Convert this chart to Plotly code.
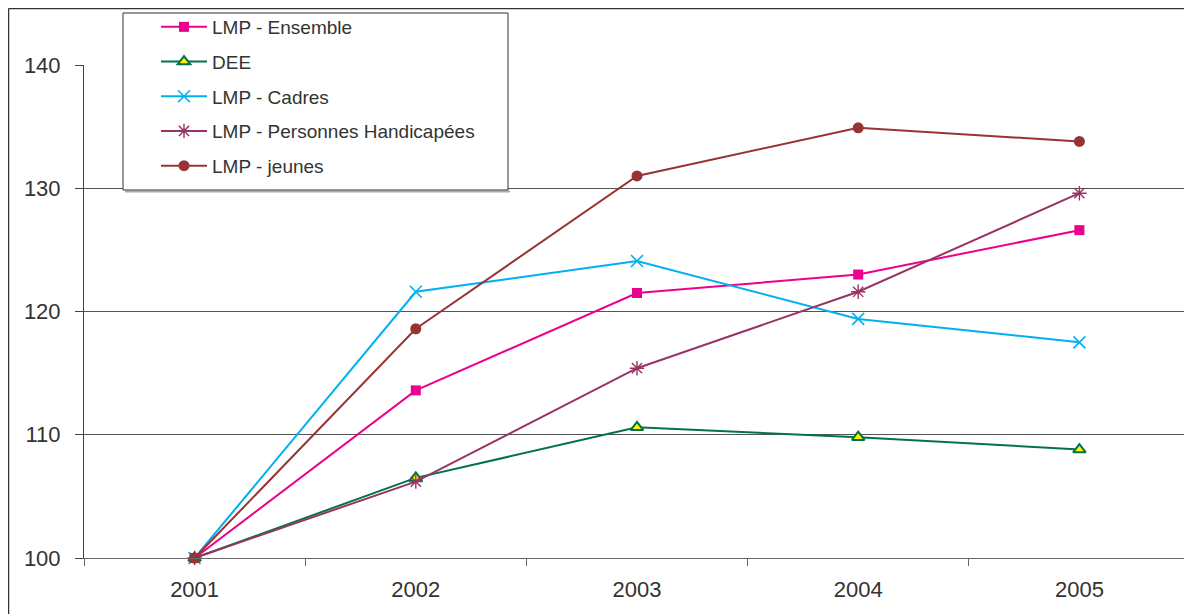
import plotly.graph_objects as go

years = ["2001", "2002", "2003", "2004", "2005"]

lmp_ensemble = [100, 113.6, 121.5, 123.0, 126.6]
dee = [100, 106.5, 110.6, 109.8, 108.8]
lmp_cadres = [100, 121.6, 124.1, 119.4, 117.5]
lmp_handicapees = [100, 106.2, 115.4, 121.6, 129.6]
lmp_jeunes = [100, 118.6, 131.0, 134.9, 133.8]

y_ticks = [100, 110, 120, 130, 140]

# page has an 8px body margin, so figure coords = screen coords - 8
OFF = 8
W, H = 1192, 614
L, R, T, B = 76, 10, 57, 64
pw, ph = W - L - R, H - T - B


def px_x(sx):
    return (sx - OFF - L) / pw


def px_y(sy):
    return (H - B - (sy - OFF)) / ph


series = [
    dict(name="LMP - Ensemble", y=lmp_ensemble, color="#EC008C",
         marker=dict(symbol="square", size=10, color="#EC008C")),
    dict(name="DEE", y=dee, color="#00734A",
         marker=dict(symbol="triangle-up", size=11, color="#FFF200",
                     line=dict(color="#00734A", width=2))),
    dict(name="LMP - Cadres", y=lmp_cadres, color="#00B0F0",
         marker=dict(symbol="x-thin-open", size=12, color="#00B0F0",
                     line=dict(color="#00B0F0", width=1.6))),
    dict(name="LMP - Personnes Handicapées", y=lmp_handicapees, color="#993366",
         marker=dict(symbol="asterisk-open", size=12, color="#993366",
                     line=dict(color="#993366", width=1.4))),
    dict(name="LMP - jeunes", y=lmp_jeunes, color="#993333",
         marker=dict(symbol="circle", size=11, color="#993333")),
]

fig = go.Figure()
for i, s in enumerate(series):
    fig.add_trace(go.Scatter(
        x=years,
        y=s["y"],
        name=s["name"],
        mode="lines+markers",
        line=dict(color=s["color"], width=2),
        marker=s["marker"],
        cliponaxis=False,
        legendgroup=f"g{i}",
    ))

font = "Liberation Sans, Arial, sans-serif"

fig.update_layout(
    width=W,
    height=H,
    margin=dict(l=L, r=R, t=T, b=B, autoexpand=False),
    paper_bgcolor="white",
    plot_bgcolor="white",
    font=dict(family=font, size=22, color="#333333"),
    showlegend=True,
    legend=dict(
        x=px_x(156),
        y=px_y(8),
        xanchor="left",
        yanchor="top",
        bgcolor="rgba(0,0,0,0)",
        borderwidth=0,
        font=dict(family=font, size=19, color="#333333"),
        tracegroupgap=7,
        itemwidth=46,
    ),
    xaxis=dict(
        type="category",
        range=[-0.5, 4.5],
        tickson="boundaries",
        ticks="outside",
        ticklen=7,
        tickcolor="#666666",
        showline=True,
        linecolor="#666666",
        linewidth=1,
        showgrid=False,
        ticklabelstandoff=12,
        tickfont=dict(size=22),
    ),
    yaxis=dict(
        range=[100, 140],
        tickvals=y_ticks,
        ticks="outside",
        ticklen=8,
        tickcolor="#444444",
        showline=True,
        linecolor="#444444",
        linewidth=1,
        showgrid=True,
        gridcolor="#555555",
        gridwidth=1,
        zeroline=False,
        ticklabelstandoff=10,
        tickfont=dict(size=22),
    ),
)

# Excel chart-area border (top and left edges visible in the crop)
fig.add_shape(type="line", xref="paper", yref="paper",
              x0=px_x(8.5), x1=px_x(1210), y0=px_y(8.5), y1=px_y(8.5),
              line=dict(color="#333333", width=1.5))
fig.add_shape(type="line", xref="paper", yref="paper",
              x0=px_x(8.5), x1=px_x(8.5), y0=px_y(8.5), y1=px_y(630),
              line=dict(color="#333333", width=1.5))

# legend box with its light shadow
fig.add_shape(type="line", xref="paper", yref="paper", layer="above",
              x0=px_x(125), x1=px_x(510), y0=px_y(191.5), y1=px_y(191.5),
              line=dict(color="#aaaaaa", width=2))
fig.add_shape(type="rect", xref="paper", yref="paper", layer="above",
              x0=px_x(123), x1=px_x(508), y0=px_y(190), y1=px_y(13),
              fillcolor="white", line=dict(color="#333333", width=1))

fig.write_html("out.html")
